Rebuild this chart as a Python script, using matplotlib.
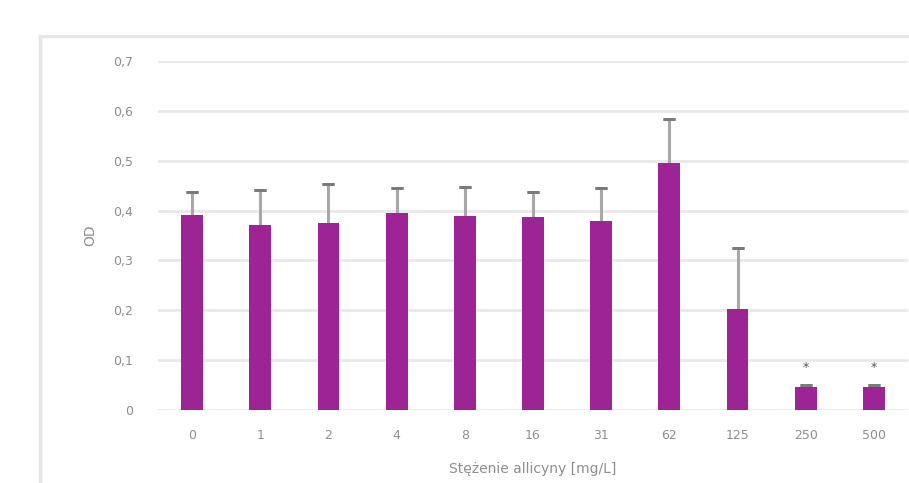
import numpy as np
import matplotlib
matplotlib.use("Agg")
from matplotlib import pyplot as plt
from matplotlib.patches import Rectangle

# stężenia allicyny i średnie OD z odchyleniem
stezenia = ["0", "1", "2", "4", "8", "16", "31", "62", "125", "250", "500"]
od = [0.392, 0.371, 0.375, 0.396, 0.390, 0.387, 0.379, 0.496, 0.203, 0.046, 0.046]
sd = [0.046, 0.071, 0.078, 0.050, 0.058, 0.051, 0.067, 0.087, 0.121, 0.004, 0.005]
istotne = [9, 10]  # słupki oznaczone gwiazdką
y_ticks = [0, 0.1, 0.2, 0.3, 0.4, 0.5, 0.6, 0.7]
y_labels = ["0", "0,1", "0,2", "0,3", "0,4", "0,5", "0,6", "0,7"]

kolor = "#9c2495"
szary = "#8e8e8e"

fig = plt.figure(figsize=(9.09, 4.83), dpi=100)
W, H = 909, 483

# ramka obszaru wykresu
fig.patches.append(Rectangle((40 / W, -0.1), 1.0, (H - 36) / H + 0.1,
                             transform=fig.transFigure, fill=False,
                             edgecolor="#e6e6e6", linewidth=2.5))

ax = fig.add_axes([158 / W, (H - 410) / H, 750 / W, 349 / H])
x = np.arange(len(stezenia))

ax.bar(x, od, width=0.32, color=kolor, zorder=3)
ax.errorbar(x, od, yerr=[np.zeros(len(sd)), sd], fmt="none",
            ecolor="#a8a8a8", elinewidth=2.2, capsize=0, zorder=2)
# daszki słupków błędu
ax.errorbar(x, np.array(od) + np.array(sd), yerr=0, fmt="none",
            ecolor="#7a7a7a", capsize=4.5, capthick=2, elinewidth=0, zorder=4)

for i in istotne:
    ax.text(x[i], od[i] + 0.026, "*", ha="center", va="bottom",
            fontsize=9, color="#555555", zorder=5)

ax.set_xlim(-0.5, len(stezenia) - 0.5)
ax.set_ylim(0, 0.7)
ax.set_yticks(y_ticks)
ax.set_yticklabels(y_labels)
ax.set_xticks(x)
ax.set_xticklabels(stezenia)
ax.tick_params(length=0, colors=szary, labelsize=9)
ax.tick_params(axis="y", pad=18)
ax.tick_params(axis="x", pad=14)
ax.grid(axis="y", color="#e9e9e9", linewidth=2, zorder=0)
for s in ax.spines.values():
    s.set_visible(False)

ax.set_ylabel("OD", color=szary, fontsize=10, labelpad=11)
ax.set_xlabel("Stężenie allicyny [mg/L]", color=szary, fontsize=10, labelpad=14)

fig.savefig("out.png", dpi=100)
